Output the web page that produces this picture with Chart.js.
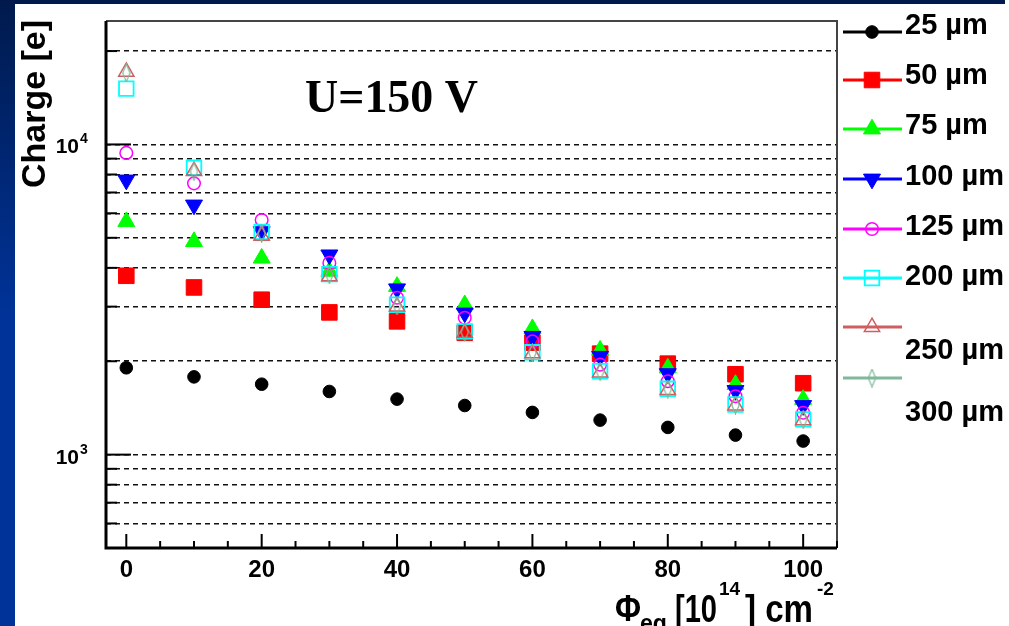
<!DOCTYPE html>
<html>
<head>
<meta charset="utf-8">
<script src="https://cdn.jsdelivr.net/npm/chart.js@4.4.1/dist/chart.umd.min.js"></script>
<style>
    html, body { margin: 0; padding: 0; background: #ffffff; }
    canvas { display: block; }
</style>
</head>
<body>
<canvas id="grafico" width="1009" height="626"></canvas>
<script>
// fluencia Phi_eq [10^14 cm^-2]
const fluencia = [0, 10, 20, 30, 40, 50, 60, 70, 80, 90, 100];

// carga coletada [e] para cada espessura
const carga25 = [1905, 1781, 1687, 1598, 1510, 1440, 1368, 1292, 1224, 1156, 1106];
const carga50 = [3772, 3459, 3158, 2874, 2689, 2470, 2296, 2116, 1965, 1816, 1699];
const carga75 = [5635, 4860, 4297, 3900, 3484, 3042, 2546, 2170, 1903, 1683, 1506];
const carga100 = [7680, 6380, 5236, 4405, 3424, 2862, 2406, 2075, 1825, 1610, 1440];
const carga125 = [9390, 7490, 5709, 4150, 3205, 2760, 2318, 1950, 1725, 1543, 1365];
const carga200 = [15136, 8410, 5225, 3820, 3042, 2496, 2138, 1857, 1630, 1451, 1299];
const carga250 = [17150, 8210, 5074, 3758, 3000, 2470, 2120, 1840, 1615, 1440, 1290];
const carga300 = [17000, 8170, 5180, 3800, 3020, 2480, 2130, 1850, 1625, 1445, 1295];

const series = [carga25, carga50, carga75, carga100, carga125, carga200, carga250, carga300];
const rotulos = ["25 µm", "50 µm", "75 µm", "100 µm", "125 µm", "200 µm", "250 µm", "300 µm"];

// eixos
const linhasGrade = [600, 700, 800, 900, 1000, 2000, 3000, 4000, 5000, 6000, 7000, 8000, 9000, 10000, 20000];
const decadas = [1000, 10000];
const rotulosX = [0, 20, 40, 60, 80, 100];

function losango(cor) {
    const c = document.createElement("canvas");
    c.width = 9;
    c.height = 19;
    const g = c.getContext("2d");
    g.strokeStyle = cor;
    g.lineWidth = 1.2;
    g.beginPath();
    g.moveTo(4.5, 0.8);
    g.lineTo(8.2, 9.5);
    g.lineTo(4.5, 18.2);
    g.lineTo(0.8, 9.5);
    g.closePath();
    g.stroke();
    return c;
}

const estilos = [
    { cor: "#000000", pointStyle: "circle", pointRadius: 6.3, fundo: "#000000", borda: 1 },
    { cor: "#ff0000", pointStyle: "rect", pointRadius: 11, fundo: "#ff0000", borda: 1 },
    { cor: "#00ff00", pointStyle: "triangle", pointRadius: 9.8, fundo: "#00ff00", borda: 1 },
    { cor: "#0000ff", pointStyle: "triangle", pointRadius: 9.8, fundo: "#0000ff", borda: 1, rotacao: 180 },
    { cor: "#ff00ff", pointStyle: "circle", pointRadius: 6.3, fundo: "rgba(0,0,0,0)", borda: 1.5 },
    { cor: "#00ffff", pointStyle: "rect", pointRadius: 10.3, fundo: "rgba(0,0,0,0)", borda: 1.8 },
    { cor: "#cf5e61", pointStyle: "triangle", pointRadius: 8.8, fundo: "rgba(0,0,0,0)", borda: 1.5 },
    { cor: "#7fb89a", pointStyle: losango("#7fb89a"), pointRadius: 8, fundo: "rgba(0,0,0,0)", borda: 1.2 }
];

const datasets = series.map((serie, i) => {
    const e = estilos[i];
    return {
        label: rotulos[i],
        data: fluencia.map((x, j) => ({ x: x, y: serie[j] })),
        borderColor: e.cor,
        backgroundColor: e.fundo,
        pointStyle: e.pointStyle,
        pointRadius: e.pointRadius,
        pointBackgroundColor: e.fundo,
        pointBorderColor: e.cor,
        pointBorderWidth: e.borda,
        pointRotation: e.rotacao || 0,
        order: series.length - i
    };
});

function desenharMarcador(ctx, ds, x, y) {
    const opcoes = {
        pointStyle: ds.pointStyle,
        radius: ds.pointRadius,
        borderWidth: ds.pointBorderWidth,
        rotation: ds.pointRotation
    };
    ctx.save();
    ctx.fillStyle = ds.pointBackgroundColor;
    ctx.strokeStyle = ds.pointBorderColor;
    ctx.lineWidth = ds.pointBorderWidth;
    Chart.helpers.drawPoint(ctx, opcoes, x, y);
    ctx.restore();
}

function texto(ctx, t, x, y, fonte, largura, alinhamento) {
    ctx.font = fonte;
    ctx.textAlign = alinhamento || "left";
    if (largura) {
        ctx.fillText(t, x, y, largura);
    } else {
        ctx.fillText(t, x, y);
    }
}

const moldura = {
    id: "moldura",
    beforeDraw(chart) {
        const ctx = chart.ctx;
        ctx.save();
        ctx.fillStyle = "#ffffff";
        ctx.fillRect(0, 0, chart.width, chart.height);
        const grad = ctx.createLinearGradient(0, 0, 0, 320);
        grad.addColorStop(0, "#001a4d");
        grad.addColorStop(1, "#003399");
        ctx.fillStyle = grad;
        ctx.fillRect(0, 0, 15, chart.height);
        ctx.fillStyle = "#001a4d";
        ctx.fillRect(0, 0, 1005, 4);
        ctx.restore();
    },
    afterDraw(chart) {
        const ctx = chart.ctx;
        const area = chart.chartArea;
        const sx = chart.scales.x;
        const sy = chart.scales.y;
        ctx.save();

        // moldura
        ctx.strokeStyle = "#444444";
        ctx.lineWidth = 2;
        ctx.beginPath();
        ctx.moveTo(area.left, area.top);
        ctx.lineTo(area.right, area.top);
        ctx.lineTo(area.right, area.bottom);
        ctx.stroke();
        ctx.strokeStyle = "#000000";
        ctx.lineWidth = 3;
        ctx.beginPath();
        ctx.moveTo(area.left, area.top);
        ctx.lineTo(area.left, area.bottom);
        ctx.lineTo(area.right, area.bottom);
        ctx.stroke();

        // marcas do eixo x (para dentro)
        ctx.lineWidth = 2;
        for (let v = 0; v <= sx.max; v += 5) {
            const px = sx.getPixelForValue(v);
            const comp = v % 20 === 0 ? 14 : 7;
            ctx.beginPath();
            ctx.moveTo(px, area.bottom);
            ctx.lineTo(px, area.bottom - comp);
            ctx.stroke();
        }
        // marcas do eixo y
        linhasGrade.forEach(v => {
            const py = sy.getPixelForValue(v);
            const comp = decadas.includes(v) ? 25 : 11;
            ctx.beginPath();
            ctx.moveTo(area.left, py);
            ctx.lineTo(area.left + comp, py);
            ctx.stroke();
        });

        // rotulos
        ctx.fillStyle = "#000000";
        ctx.textBaseline = "alphabetic";
        rotulosX.forEach(v => {
            texto(ctx, String(v), sx.getPixelForValue(v), 577, "bold 24px 'Liberation Sans', Arial, sans-serif", null, "center");
        });
        decadas.forEach(v => {
            const py = sy.getPixelForValue(v);
            texto(ctx, "10", 79, py + 9, "bold 21px 'Liberation Sans', Arial, sans-serif", null, "right");
            texto(ctx, String(Math.round(Math.log10(v))), 80, py - 1, "bold 14px 'Liberation Sans', Arial, sans-serif", null, "left");
        });

        // titulo do eixo y
        ctx.save();
        ctx.translate(45, 20);
        ctx.rotate(-Math.PI / 2);
        texto(ctx, "Charge [e]", 0, 0, "bold 34px 'Liberation Sans', Arial, sans-serif", 168, "right");
        ctx.restore();

        // titulo do eixo x
        const fx = "'Liberation Sans', Arial, sans-serif";
        texto(ctx, "Φ", 615, 621, "bold 36px " + fx, 26);
        texto(ctx, "eq", 640, 632, "bold 26px " + fx, 27);
        texto(ctx, "[10", 675, 622, "bold 38px " + fx, 42);
        texto(ctx, "14", 719, 595, "bold 19px " + fx, 23);
        texto(ctx, "] cm", 745, 622, "bold 38px " + fx, 68);
        texto(ctx, "-2", 817, 595, "bold 19px " + fx, 20);

        // anotacao
        texto(ctx, "U=150 V", 305, 112, "bold 46px 'Liberation Serif', 'Times New Roman', serif", 173);

        // legenda
        const linhaY = [32, 80, 129, 179, 229, 278, 327, 378];
        const textoY = [34, 84, 134, 185, 235, 285, 359, 421];
        chart.data.datasets.forEach((ds, i) => {
            ctx.strokeStyle = ds.borderColor;
            ctx.lineWidth = 3;
            ctx.beginPath();
            ctx.moveTo(843, linhaY[i]);
            ctx.lineTo(902, linhaY[i]);
            ctx.stroke();
            desenharMarcador(ctx, ds, 872, linhaY[i]);
            ctx.fillStyle = "#000000";
            texto(ctx, ds.label, 905, textoY[i], "bold 29px 'Liberation Sans', Arial, sans-serif");
        });

        ctx.restore();
    }
};

const ctx = document.getElementById("grafico").getContext("2d");

new Chart(ctx, {
    type: "scatter",
    data: { datasets: datasets },
    options: {
        responsive: false,
        animation: false,
        events: [],
        layout: { padding: { left: 106, right: 172, top: 21, bottom: 78 } },
        plugins: {
            legend: { display: false },
            tooltip: { enabled: false }
        },
        scales: {
            x: {
                type: "linear",
                min: -3,
                max: 105,
                ticks: { display: false },
                grid: { display: false, drawTicks: false },
                border: { display: false }
            },
            y: {
                type: "logarithmic",
                min: 500,
                max: 25000,
                afterBuildTicks: s => { s.ticks = linhasGrade.map(v => ({ value: v })); },
                ticks: { display: false },
                grid: { color: "#111111", lineWidth: 1.5, drawTicks: false },
                border: { display: false, dash: [5, 4] }
            }
        }
    },
    plugins: [moldura]
});
</script>
</body>
</html>
